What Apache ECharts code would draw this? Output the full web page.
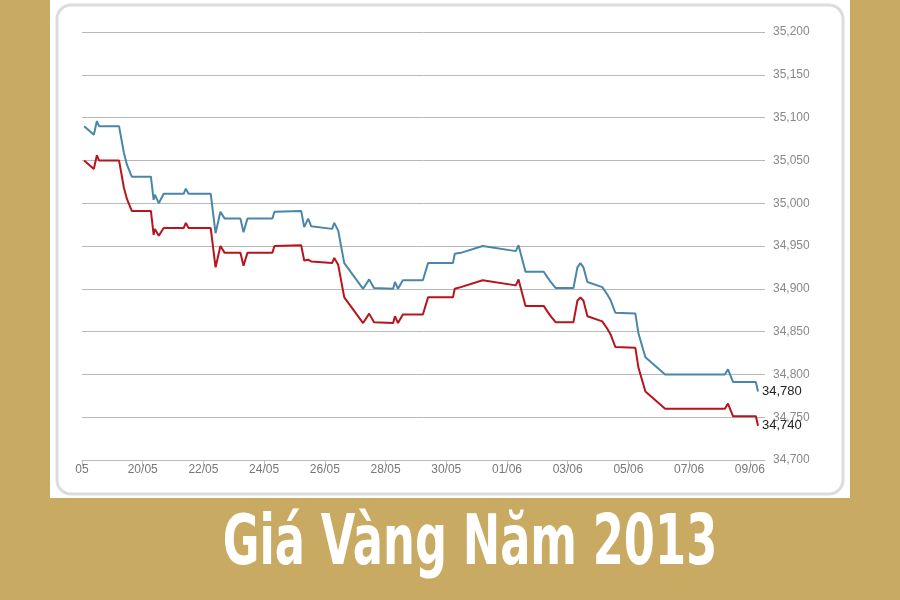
<!DOCTYPE html>
<html>
<head>
<meta charset="utf-8">
<script src="https://cdn.jsdelivr.net/npm/echarts@6/dist/echarts.min.js"></script>
<style>html,body{margin:0;padding:0;background:#c9aa62;}#chart{width:900px;height:600px;}</style>
</head>
<body>
<div id="chart"></div>
<script>
// ngay tinh tu 18/05
var dayLabels = ['05', '20/05', '22/05', '24/05', '26/05', '28/05', '30/05', '01/06', '03/06', '05/06', '07/06', '09/06'];
var yTicks = [34700, 34750, 34800, 34850, 34900, 34950, 35000, 35050, 35100, 35150, 35200];

// gia ban (xanh)
var sellDays = [0.07, 0.39, 0.49, 0.56, 1.22, 1.38, 1.48, 1.64, 2.27, 2.36, 2.40, 2.53, 2.69, 3.35, 3.42, 3.51, 4.24, 4.40, 4.56, 4.70,
  5.22, 5.32, 5.45, 6.27, 6.34, 7.22, 7.32, 7.45, 7.55, 8.24, 8.31, 8.44, 8.64, 9.26, 9.46, 9.62, 10.25, 10.31, 10.41, 10.57,
  11.23, 11.40, 12.22, 12.28, 12.48, 13.20, 14.29, 14.38, 14.61, 15.21, 15.34, 15.44, 15.60, 16.19, 16.32, 16.42, 16.52, 16.65,
  17.14, 17.31, 17.41, 17.57, 18.23, 18.33, 18.56, 19.21, 21.18, 21.28, 21.45, 22.20, 22.27];
var sellValues = [35090, 35080, 35096, 35090, 35090, 35059, 35045, 35031, 35031, 35004, 35010, 35000, 35011, 35011, 35017, 35011, 35011, 34965, 34990, 34982,
  34982, 34966, 34982, 34982, 34990, 34991, 34972, 34982, 34973, 34970, 34977, 34968, 34930, 34900, 34911, 34901, 34900, 34908, 34900, 34910,
  34910, 34930, 34930, 34941, 34942, 34950, 34944, 34951, 34920, 34920, 34913, 34908, 34901, 34901, 34925, 34930, 34925, 34908,
  34902, 34893, 34887, 34872, 34871, 34848, 34820, 34800, 34800, 34806, 34791, 34791, 34780];
// gia mua (do)
var buyValues = [35050, 35040, 35056, 35050, 35050, 35018, 35005, 34991, 34991, 34963, 34970, 34962, 34971, 34971, 34977, 34971, 34971, 34925, 34950, 34942,
  34942, 34927, 34942, 34942, 34950, 34951, 34933, 34934, 34932, 34930, 34936, 34928, 34890, 34860, 34871, 34861, 34860, 34868, 34860, 34870,
  34870, 34890, 34890, 34900, 34902, 34910, 34904, 34911, 34880, 34880, 34873, 34868, 34861, 34861, 34886, 34890, 34886, 34868,
  34862, 34853, 34847, 34832, 34831, 34808, 34780, 34760, 34760, 34766, 34751, 34751, 34740];

function pairs(xs, ys) {
  var out = [];
  for (var i = 0; i < xs.length; i++) out.push([xs[i], ys[i]]);
  return out;
}
function fmt(v) { return String(v).replace(/(\d\d)(\d{3})$/, '$1,$2'); }

var myChart = echarts.init(document.getElementById('chart'));
var option = {
  backgroundColor: '#c9aa62',
  animation: false,
  graphic: [
    { type: 'rect', shape: { x: 50, y: 0, width: 800, height: 498 }, style: { fill: '#ffffff' }, z: -10 },
    { type: 'rect', shape: { x: 57, y: 5, width: 786, height: 489, r: 14 }, style: { fill: 'none', stroke: '#dcdcdc', lineWidth: 3 }, z: -9 },
    { type: 'text', x: 470, y: 546, scaleX: 0.64, originX: 0, originY: 0, style: { text: 'Giá Vàng Năm 2013', fill: '#ffffff', align: 'center', verticalAlign: 'middle',
      font: 'bold 70px "DejaVu Sans", sans-serif' } }
  ],
  grid: { left: 82, right: 135, top: 32, bottom: 140 },
  xAxis: {
    type: 'value', min: 0, max: 22.5, interval: 2,
    axisLine: { lineStyle: { color: '#bbbbbb' } },
    axisTick: { show: true, length: 6, lineStyle: { color: '#bbbbbb' } },
    splitLine: { show: false },
    axisLabel: { color: '#777', fontSize: 12, fontFamily: 'Liberation Sans', margin: 4, showMaxLabel: false,
      formatter: function (v) { return dayLabels[Math.round(v / 2)] || ''; } }
  },
  yAxis: {
    type: 'value', position: 'right', min: yTicks[0], max: yTicks[yTicks.length - 1], interval: 50,
    axisLine: { show: false }, axisTick: { show: false },
    splitLine: { lineStyle: { color: '#b8b8b8', width: 1 } },
    axisLabel: { color: '#888', fontSize: 12, fontFamily: 'Liberation Sans', margin: 8, formatter: fmt }
  },
  series: [
    { type: 'line', data: pairs(sellDays, sellValues), showSymbol: false, lineStyle: { color: '#4a86a8', width: 2 },
      endLabel: { show: true, color: '#222', fontSize: 13, fontFamily: 'Liberation Sans', distance: 4, formatter: function (p) { return fmt(p.value[1]); } } },
    { type: 'line', data: pairs(sellDays, buyValues), showSymbol: false, lineStyle: { color: '#b8141b', width: 2 },
      endLabel: { show: true, color: '#222', fontSize: 13, fontFamily: 'Liberation Sans', distance: 4, formatter: function (p) { return fmt(p.value[1]); } } }
  ]
};
myChart.setOption(option);
</script>
</body>
</html>
